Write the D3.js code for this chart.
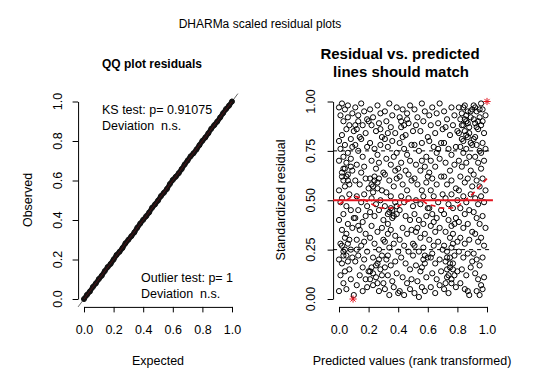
<!DOCTYPE html>
<html>
<head>
<meta charset="utf-8">
<script src="https://cdn.jsdelivr.net/npm/d3@7"></script>
<style>
body { margin: 0; background: #fff; }
text { font-family: "Liberation Sans", Arial, sans-serif; fill: #000; }
</style>
</head>
<body>
<div id="chart"></div>
<script>
// ---- values ----
const qqExpected = [0.00,0.02,0.04,0.06,0.08,0.10,0.12,0.14,0.16,0.18,0.20,0.22,0.24,0.26,0.28,0.30,0.32,0.34,0.36,0.38,
  0.40,0.42,0.44,0.46,0.48,0.50,0.52,0.54,0.56,0.58,0.60,0.62,0.64,0.66,0.68,0.70,0.72,0.74,0.76,0.78,
  0.80,0.82,0.84,0.86,0.88,0.90,0.92,0.94,0.96,0.98,1.00];
const qqObserved = [0.000,0.021,0.038,0.061,0.079,0.101,0.118,0.141,0.162,0.178,0.200,0.223,0.239,0.258,0.282,0.300,0.318,0.337,0.361,0.382,
  0.401,0.419,0.438,0.462,0.479,0.498,0.521,0.538,0.557,0.582,0.603,0.619,0.637,0.658,0.681,0.701,0.722,0.738,0.757,0.779,
  0.801,0.818,0.839,0.862,0.880,0.898,0.919,0.941,0.962,0.979,1.000];

// [predicted (rank transformed), standardized residual]
const residualPoints = [
  // 0.0 - 0.1
  [0.00,0.97],[0.02,0.99],[0.04,0.96],[0.06,0.98],[0.01,0.93],[0.03,0.90],[0.05,0.86],[0.00,0.80],[0.02,0.83],[0.07,0.88],
  [0.09,0.94],[0.08,0.81],[0.01,0.76],[0.04,0.78],[0.06,0.74],[0.00,0.70],[0.03,0.66],[0.05,0.69],[0.08,0.71],[0.02,0.62],
  [0.06,0.60],[0.09,0.65],[0.00,0.55],[0.04,0.57],[0.07,0.53],[0.01,0.49],[0.05,0.47],[0.03,0.43],[0.08,0.45],[0.00,0.40],
  [0.06,0.38],[0.02,0.35],[0.09,0.36],[0.04,0.31],[0.01,0.28],[0.07,0.30],[0.03,0.24],[0.05,0.22],[0.00,0.20],[0.08,0.25],
  [0.02,0.18],[0.06,0.19],[0.09,0.21],[0.04,0.14],[0.01,0.12],[0.07,0.15],[0.03,0.08],[0.05,0.05],[0.00,0.04],[0.08,0.10],
  [0.10,0.02],[0.06,0.92],[0.09,0.77],[0.03,0.72],[0.07,0.58],[0.02,0.51],[0.10,0.41],[0.05,0.33],
  [0.02,0.64],[0.04,0.66],[0.06,0.63],[0.08,0.67],[0.03,0.60],[0.05,0.62],[0.02,0.27],[0.04,0.25],[0.06,0.28],[0.03,0.22],
  [0.10,0.85],
  // 0.1 - 0.2
  [0.11,0.97],[0.13,0.93],[0.15,0.99],[0.17,0.95],[0.19,0.91],[0.12,0.86],[0.14,0.82],[0.16,0.88],[0.18,0.84],[0.11,0.78],
  [0.13,0.75],[0.16,0.72],[0.19,0.77],[0.12,0.68],[0.15,0.64],[0.17,0.67],[0.11,0.60],[0.14,0.58],[0.18,0.61],[0.20,0.56],
  [0.12,0.52],[0.15,0.49],[0.17,0.53],[0.13,0.45],[0.19,0.47],[0.11,0.41],[0.16,0.39],[0.14,0.35],[0.18,0.33],[0.12,0.30],
  [0.15,0.27],[0.17,0.29],[0.13,0.22],[0.19,0.24],[0.11,0.19],[0.16,0.16],[0.14,0.12],[0.18,0.10],[0.12,0.07],[0.16,0.04],
  [0.19,0.06],[0.20,0.14],[0.13,0.37],[0.18,0.42],[0.15,0.81],[0.20,0.90],[0.17,0.20],[0.12,0.25],
  [0.11,0.88],[0.13,0.90],
  // 0.2 - 0.3
  [0.21,0.96],[0.23,0.92],[0.26,0.98],[0.28,0.94],[0.22,0.88],[0.25,0.85],[0.27,0.89],[0.29,0.82],[0.21,0.79],[0.24,0.76],
  [0.26,0.73],[0.28,0.78],[0.22,0.70],[0.25,0.66],[0.27,0.69],[0.30,0.64],[0.21,0.61],[0.23,0.57],[0.26,0.59],[0.29,0.55],
  [0.22,0.51],[0.25,0.48],[0.28,0.50],[0.21,0.44],[0.24,0.42],[0.27,0.45],[0.30,0.40],[0.22,0.37],[0.26,0.34],[0.29,0.36],
  [0.21,0.31],[0.24,0.28],[0.27,0.25],[0.23,0.21],[0.26,0.18],[0.29,0.22],[0.21,0.14],[0.25,0.11],[0.28,0.15],[0.23,0.07],
  [0.27,0.04],[0.30,0.08],[0.24,0.62],[0.28,0.86],[0.22,0.16],[0.30,0.30],
  [0.22,0.58],[0.24,0.60],[0.26,0.56],[0.23,0.54],[0.27,0.61],[0.21,0.10],[0.23,0.13],[0.25,0.17],[0.27,0.20],[0.29,0.12],
  [0.26,0.08],
  // 0.3 - 0.4
  [0.31,0.95],[0.34,0.99],[0.36,0.93],[0.39,0.97],[0.32,0.90],[0.35,0.87],[0.38,0.84],[0.31,0.81],[0.33,0.77],[0.36,0.80],
  [0.39,0.74],[0.32,0.71],[0.35,0.68],[0.37,0.72],[0.40,0.66],[0.31,0.63],[0.34,0.60],[0.37,0.57],[0.39,0.61],[0.32,0.54],
  [0.35,0.52],[0.38,0.49],[0.31,0.47],[0.34,0.44],[0.36,0.41],[0.39,0.43],[0.33,0.38],[0.35,0.35],[0.38,0.32],[0.31,0.29],
  [0.34,0.26],[0.37,0.28],[0.40,0.24],[0.32,0.20],[0.35,0.17],[0.38,0.19],[0.33,0.12],[0.36,0.09],[0.39,0.13],[0.31,0.05],
  [0.34,0.02],[0.37,0.06],[0.40,0.03],[0.33,0.33],[0.36,0.45],[0.38,0.65],[0.33,0.84],
  [0.31,0.16],[0.33,0.22],[0.33,0.43],[0.35,0.46],[0.37,0.42],[0.39,0.47],
  // 0.4 - 0.5
  [0.41,0.92],[0.43,0.96],[0.46,0.94],[0.48,0.98],[0.42,0.87],[0.45,0.83],[0.47,0.89],[0.50,0.85],[0.41,0.79],[0.44,0.76],
  [0.46,0.73],[0.49,0.78],[0.42,0.69],[0.45,0.65],[0.48,0.70],[0.41,0.62],[0.43,0.58],[0.46,0.55],[0.49,0.60],[0.42,0.52],
  [0.44,0.49],[0.47,0.51],[0.50,0.47],[0.41,0.45],[0.45,0.42],[0.48,0.40],[0.43,0.36],[0.46,0.33],[0.49,0.35],[0.41,0.30],
  [0.44,0.27],[0.47,0.24],[0.50,0.28],[0.42,0.21],[0.45,0.18],[0.48,0.15],[0.43,0.11],[0.46,0.08],[0.49,0.10],[0.41,0.04],
  [0.44,0.02],[0.48,0.05],[0.47,0.63],[0.43,0.82],[0.50,0.22],
  [0.42,0.90],[0.44,0.88],[0.46,0.91],
  // 0.5 - 0.6
  [0.51,0.96],[0.53,0.92],[0.56,0.99],[0.58,0.95],[0.52,0.88],[0.55,0.85],[0.57,0.90],[0.60,0.82],[0.51,0.78],[0.54,0.75],
  [0.56,0.79],[0.59,0.72],[0.52,0.68],[0.55,0.65],[0.58,0.67],[0.51,0.61],[0.53,0.58],[0.56,0.55],[0.59,0.59],[0.52,0.50],
  [0.55,0.48],[0.57,0.52],[0.60,0.46],[0.51,0.43],[0.54,0.40],[0.57,0.38],[0.59,0.42],[0.52,0.34],[0.55,0.31],[0.58,0.33],
  [0.51,0.27],[0.54,0.24],[0.57,0.26],[0.60,0.21],[0.52,0.17],[0.55,0.14],[0.58,0.18],[0.53,0.09],[0.56,0.06],[0.59,0.11],
  [0.51,0.03],[0.54,0.01],[0.58,0.04],[0.56,0.70],[0.53,0.36],[0.60,0.62],
  [0.56,0.16],[0.58,0.22],[0.57,0.20],
  // 0.6 - 0.7
  [0.61,0.93],[0.63,0.97],[0.66,0.94],[0.68,0.99],[0.62,0.88],[0.65,0.84],[0.67,0.89],[0.70,0.86],[0.61,0.80],[0.64,0.77],
  [0.66,0.74],[0.69,0.79],[0.62,0.70],[0.65,0.67],[0.68,0.71],[0.61,0.64],[0.63,0.61],[0.66,0.58],[0.69,0.62],[0.62,0.55],
  [0.64,0.52],[0.67,0.49],[0.70,0.53],[0.61,0.46],[0.63,0.43],[0.66,0.41],[0.69,0.45],[0.62,0.37],[0.65,0.34],[0.68,0.36],
  [0.61,0.30],[0.64,0.27],[0.67,0.29],[0.70,0.25],[0.62,0.21],[0.65,0.18],[0.68,0.20],[0.63,0.13],[0.66,0.10],[0.69,0.14],
  [0.62,0.06],[0.65,0.03],[0.68,0.07],[0.64,0.39],[0.67,0.76],[0.63,0.23],
  // 0.7 - 0.8
  [0.71,0.95],[0.73,0.91],[0.76,0.97],[0.78,0.93],[0.72,0.87],[0.75,0.83],[0.77,0.88],[0.80,0.85],[0.71,0.79],[0.74,0.76],
  [0.76,0.73],[0.79,0.77],[0.72,0.69],[0.75,0.65],[0.78,0.68],[0.71,0.62],[0.73,0.58],[0.76,0.60],[0.79,0.56],[0.72,0.51],
  [0.74,0.48],[0.77,0.46],[0.80,0.50],[0.71,0.43],[0.74,0.40],[0.76,0.37],[0.79,0.41],[0.72,0.34],[0.75,0.31],[0.77,0.33],
  [0.80,0.29],[0.71,0.27],[0.73,0.24],[0.76,0.26],[0.78,0.22],[0.72,0.19],[0.75,0.16],[0.77,0.18],[0.80,0.14],[0.73,0.11],
  [0.76,0.08],[0.78,0.12],[0.71,0.05],[0.74,0.03],[0.79,0.06],[0.77,0.28],[0.75,0.21],[0.78,0.38],[0.73,0.15],[0.76,0.53],
  [0.72,0.08],[0.74,0.12],[0.75,0.18],[0.77,0.15],[0.73,0.21],[0.76,0.10],
  // 0.8 - 0.9
  [0.81,0.97],[0.83,0.94],[0.85,0.98],[0.87,0.95],[0.89,0.92],[0.82,0.91],[0.84,0.88],[0.86,0.90],[0.88,0.87],[0.90,0.96],
  [0.81,0.84],[0.83,0.81],[0.85,0.85],[0.87,0.82],[0.89,0.79],[0.82,0.77],[0.84,0.74],[0.86,0.76],[0.88,0.72],[0.81,0.70],
  [0.83,0.67],[0.86,0.69],[0.89,0.65],[0.82,0.62],[0.85,0.59],[0.87,0.61],[0.90,0.57],[0.81,0.55],[0.84,0.52],[0.86,0.49],
  [0.89,0.53],[0.82,0.46],[0.85,0.43],[0.88,0.45],[0.81,0.39],[0.84,0.36],[0.87,0.38],[0.90,0.34],[0.82,0.31],[0.85,0.28],
  [0.88,0.30],[0.81,0.24],[0.84,0.21],[0.87,0.23],[0.90,0.19],[0.83,0.15],[0.86,0.12],[0.89,0.16],[0.82,0.08],[0.85,0.05],
  [0.88,0.02],[0.87,0.04],[0.86,0.93],[0.84,0.97],[0.88,0.84],
  [0.83,0.88],[0.85,0.91],[0.87,0.89],[0.89,0.95],[0.84,0.80],[0.86,0.83],
  // 0.9 - 1.0
  [0.91,0.98],[0.93,0.95],[0.95,0.92],[0.97,0.96],[0.99,0.93],[0.92,0.89],[0.94,0.86],[0.96,0.88],[0.98,0.84],[0.91,0.81],
  [0.93,0.78],[0.95,0.75],[0.97,0.79],[0.99,0.76],[0.92,0.72],[0.94,0.69],[0.96,0.66],[0.98,0.70],[0.91,0.63],[0.93,0.60],
  [0.95,0.57],[0.97,0.61],[0.99,0.55],[0.92,0.51],[0.94,0.48],[0.96,0.52],[0.98,0.49],[0.91,0.44],[0.93,0.41],[0.95,0.38],
  [0.97,0.42],[0.99,0.36],[0.92,0.33],[0.94,0.29],[0.96,0.31],[0.98,0.27],[0.91,0.23],[0.93,0.20],[0.95,0.17],[0.97,0.21],
  [0.92,0.13],[0.94,0.10],[0.96,0.07],[0.98,0.11],[0.93,0.04],[0.95,0.02],[0.97,0.05],[0.94,0.90],[0.96,0.99],[0.92,0.97],
  [0.91,0.91],[0.93,0.87],[0.95,0.96],[0.97,0.90],[0.90,0.78],[0.92,0.82],[0.96,0.74]
];
const outlierPoints = [[0.095, 0.00], [1.00, 1.00]];

// median quantile spline (red dashed)
const medianX = [0.00,0.05,0.10,0.15,0.20,0.25,0.30,0.35,0.40,0.45,0.50,0.55,0.60,0.65,0.70,0.75,0.80,0.85,0.90,0.95,1.00];
const medianY = [0.48,0.50,0.52,0.51,0.49,0.47,0.46,0.46,0.47,0.49,0.50,0.50,0.48,0.47,0.46,0.46,0.47,0.50,0.53,0.57,0.61];

const xTicks = [0, 0.2, 0.4, 0.6, 0.8, 1];
const xTickLabels = ["0.0", "0.2", "0.4", "0.6", "0.8", "1.0"];
const qqYTicks = [0, 0.2, 0.4, 0.6, 0.8, 1];
const qqYTickLabels = ["0.0", "0.2", "0.4", "0.6", "0.8", "1.0"];
const resYTicks = [0, 0.25, 0.5, 0.75, 1];
const resYTickLabels = ["0.00", "0.25", "0.50", "0.75", "1.00"];
const refLines = [0.25, 0.75];

const width = 540, height = 386;
const red = "#e3141f";
const fontSize = 12.5;

let svg = d3.select("#chart")
    .append("svg")
    .attr("width", width)
    .attr("height", height);

svg.append("rect").attr("width", width).attr("height", height).attr("fill", "#fff");

// main title
svg.append("text")
    .attr("x", 260).attr("y", 28)
    .attr("text-anchor", "middle")
    .style("font-size", "12px")
    .text("DHARMa scaled residual plots");

// draws box axes like base R: line from first to last tick, rotated y labels
function drawAxes(x, y, yTicks, yLabels, yLabelX) {
    let bottom = y(-0.04), left = x(-0.04);

    let gx = svg.append("g")
        .attr("transform", "translate(0," + bottom + ")")
        .call(d3.axisBottom(x).tickValues(xTicks)
            .tickFormat(function (d, i) { return xTickLabels[i]; })
            .tickSize(5.5).tickSizeOuter(0).tickPadding(13));
    gx.attr("font-family", null).attr("font-size", null);
    gx.selectAll("text").style("font-size", fontSize + "px");

    svg.append("g")
        .attr("transform", "translate(" + left + ",0)")
        .call(d3.axisLeft(y).tickValues(yTicks).tickFormat("")
            .tickSize(5.5).tickSizeOuter(0));

    svg.selectAll(null)
        .data(yTicks)
        .enter()
        .append("text")
        .attr("transform", function (d) { return "translate(" + yLabelX + "," + y(d) + ") rotate(-90)"; })
        .attr("text-anchor", "middle")
        .style("font-size", fontSize + "px")
        .text(function (d, i) { return yLabels[i]; });
}

// ---------- left panel: QQ plot ----------
let xL = d3.scaleLinear().domain([0, 1]).range([84, 232]);
let yL = d3.scaleLinear().domain([0, 1]).range([299, 101.5]);

svg.append("text")
    .attr("x", 152).attr("y", 68)
    .attr("text-anchor", "middle")
    .style("font-size", "12px").style("font-weight", "bold")
    .text("QQ plot residuals");

drawAxes(xL, yL, qqYTicks, qqYTickLabels, 61.5);

// thin 1:1 line over the whole box
svg.append("line")
    .attr("x1", xL(-0.04)).attr("y1", yL(-0.04))
    .attr("x2", xL(1.04)).attr("y2", yL(1.04))
    .attr("stroke", "#444").attr("stroke-width", 0.8);

let qq = qqExpected.map(function (e, i) { return [e, qqObserved[i]]; });

svg.append("path")
    .datum(qq)
    .attr("d", d3.line().x(function (d) { return xL(d[0]); }).y(function (d) { return yL(d[1]); }))
    .attr("fill", "none")
    .attr("stroke", "#111")
    .attr("stroke-width", 5)
    .attr("stroke-linecap", "round");

svg.selectAll(".qqdot")
    .data(qq)
    .enter()
    .append("circle")
    .attr("class", "qqdot")
    .attr("cx", function (d) { return xL(d[0]); })
    .attr("cy", function (d) { return yL(d[1]); })
    .attr("r", 2.5)
    .attr("fill", "none")
    .attr("stroke", "#111")
    .attr("stroke-width", 1);

svg.append("line")
    .attr("x1", xL(0)).attr("y1", yL(0))
    .attr("x2", xL(1)).attr("y2", yL(1))
    .attr("stroke", red).attr("stroke-width", 0.8).attr("opacity", 0.35);

let qqNotes = [
    { x: 102, y: 114, t: "KS test: p= 0.91075" },
    { x: 102, y: 130, t: "Deviation  n.s." },
    { x: 141, y: 282, t: "Outlier test: p= 1" },
    { x: 141, y: 298, t: "Deviation  n.s." }
];
svg.selectAll(".note")
    .data(qqNotes)
    .enter()
    .append("text")
    .attr("class", "note")
    .attr("x", function (d) { return d.x; })
    .attr("y", function (d) { return d.y; })
    .style("font-size", fontSize + "px")
    .style("white-space", "pre")
    .text(function (d) { return d.t; });

svg.append("text")
    .attr("x", 158).attr("y", 365)
    .attr("text-anchor", "middle")
    .style("font-size", fontSize + "px")
    .text("Expected");

svg.append("text")
    .attr("transform", "translate(31.5,200) rotate(-90)")
    .attr("text-anchor", "middle")
    .style("font-size", fontSize + "px")
    .text("Observed");

// ---------- right panel: residual vs predicted ----------
let xR = d3.scaleLinear().domain([0, 1]).range([339, 487]);
let yR = d3.scaleLinear().domain([0, 1]).range([299, 101.5]);

svg.append("text")
    .attr("x", 400).attr("y", 58.5)
    .attr("text-anchor", "middle")
    .style("font-size", "15px").style("font-weight", "bold")
    .text("Residual vs. predicted");
svg.append("text")
    .attr("x", 401).attr("y", 77)
    .attr("text-anchor", "middle")
    .style("font-size", "15px").style("font-weight", "bold")
    .text("lines should match");

drawAxes(xR, yR, resYTicks, resYTickLabels, 315);

svg.selectAll(".dot")
    .data(residualPoints)
    .enter()
    .append("circle")
    .attr("class", "dot")
    .attr("cx", function (d) { return xR(d[0]); })
    .attr("cy", function (d) { return yR(d[1]); })
    .attr("r", 2.6)
    .attr("fill", "none")
    .attr("stroke", "#000")
    .attr("stroke-width", 1);

svg.selectAll(".ref")
    .data(refLines)
    .enter()
    .append("line")
    .attr("class", "ref")
    .attr("x1", xR(-0.04)).attr("x2", xR(1.04))
    .attr("y1", function (d) { return yR(d); })
    .attr("y2", function (d) { return yR(d); })
    .attr("stroke", "#000").attr("stroke-width", 1)
    .attr("stroke-dasharray", "4,4");

svg.append("line")
    .attr("x1", xR(-0.04)).attr("x2", xR(1.04))
    .attr("y1", yR(0.5)).attr("y2", yR(0.5))
    .attr("stroke", red).attr("stroke-width", 2);

svg.append("path")
    .datum(medianX.map(function (v, i) { return [v, medianY[i]]; }))
    .attr("d", d3.line().curve(d3.curveMonotoneX)
        .x(function (d) { return xR(d[0]); })
        .y(function (d) { return yR(d[1]); }))
    .attr("fill", "none")
    .attr("stroke", red)
    .attr("stroke-width", 1.6)
    .attr("stroke-dasharray", "5,4");

// outliers drawn as R pch 8 stars
let s = 3.6;
svg.selectAll(".outlier")
    .data(outlierPoints)
    .enter()
    .append("path")
    .attr("class", "outlier")
    .attr("transform", function (d) { return "translate(" + xR(d[0]) + "," + yR(d[1]) + ")"; })
    .attr("d", "M" + (-s) + ",0H" + s + "M0," + (-s) + "V" + s +
        "M" + (-s * 0.72) + "," + (-s * 0.72) + "L" + (s * 0.72) + "," + (s * 0.72) +
        "M" + (-s * 0.72) + "," + (s * 0.72) + "L" + (s * 0.72) + "," + (-s * 0.72))
    .attr("stroke", red)
    .attr("stroke-width", 1)
    .attr("fill", "none");

svg.append("text")
    .attr("x", 412).attr("y", 365)
    .attr("text-anchor", "middle")
    .style("font-size", fontSize + "px")
    .text("Predicted values (rank transformed)");

svg.append("text")
    .attr("transform", "translate(285,200) rotate(-90)")
    .attr("text-anchor", "middle")
    .style("font-size", fontSize + "px")
    .text("Standardized residual");
</script>
</body>
</html>
